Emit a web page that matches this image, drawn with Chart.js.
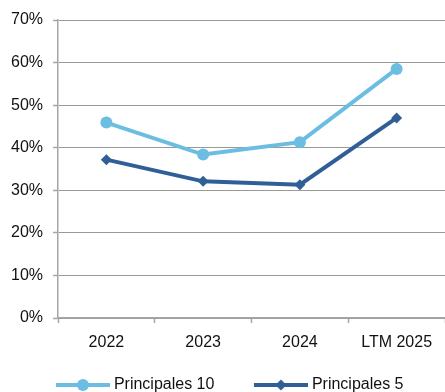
<!DOCTYPE html>
<html>
<head>
<meta charset="utf-8">
<script src="https://cdn.jsdelivr.net/npm/chart.js@4"></script>
<style>
  html, body { margin: 0; padding: 0; background: #fff; overflow: hidden; }
  #wrap { width: 445px; height: 403px; position: relative; }
</style>
</head>
<body>
<div id="wrap"><canvas id="chart"></canvas></div>
<script>
const labels = ["2022", "2023", "2024", "LTM 2025"];
const principales10 = [45.9, 38.4, 41.3, 58.5];
const principales5 = [37.2, 32.1, 31.3, 47.0];
const yTicks = [0, 10, 20, 30, 40, 50, 60, 70];

const lightBlue = "#6cbde2";
const darkBlue = "#2f5f96";
const gridGrey = "#999999";
const axisGrey = "#a6a6a6";
const FONT = "'Liberation Sans', Arial, sans-serif";

// line + marker picture used as the legend symbol
function legendIcon(color, style) {
  const c = document.createElement("canvas");
  c.width = 56; c.height = 14;
  const g = c.getContext("2d");
  g.strokeStyle = color;
  g.lineWidth = 4;
  g.beginPath(); g.moveTo(2, 7); g.lineTo(56, 7); g.stroke();
  g.fillStyle = color;
  g.beginPath();
  if (style === "circle") {
    g.arc(29, 7, 6, 0, Math.PI * 2);
  } else {
    g.moveTo(29, 1.5); g.lineTo(34.5, 7); g.lineTo(29, 12.5); g.lineTo(23.5, 7); g.closePath();
  }
  g.fill();
  return c;
}

new Chart(document.getElementById("chart"), {
  type: "line",
  data: {
    labels: labels,
    datasets: [{
      label: "Principales 10",
      data: principales10,
      borderColor: lightBlue,
      backgroundColor: lightBlue,
      borderWidth: 4,
      pointStyle: "circle",
      pointRadius: 6,
      pointHoverRadius: 6,
      pointBorderWidth: 0,
      tension: 0
    }, {
      label: "Principales 5",
      data: principales5,
      borderColor: darkBlue,
      backgroundColor: darkBlue,
      borderWidth: 4,
      pointStyle: "rectRot",
      pointRadius: 5.5,
      pointHoverRadius: 5.5,
      pointBorderWidth: 0,
      tension: 0
    }]
  },
  options: {
    responsive: true,
    maintainAspectRatio: false,
    animation: false,
    layout: { autoPadding: false, padding: { top: 20, right: 0, left: 0, bottom: 0 } },
    plugins: {
      tooltip: { enabled: false },
      legend: {
        position: "bottom",
        align: "end",
        labels: {
          font: { family: FONT, size: 16 },
          color: "#111",
          padding: 41.5,
          usePointStyle: true,
          pointStyleWidth: 48,
          generateLabels: (chart) => chart.data.datasets.map((ds, i) => ({
            text: ds.label,
            datasetIndex: i,
            pointStyle: legendIcon(ds.borderColor, ds.pointStyle),
            fillStyle: ds.borderColor,
            strokeStyle: ds.borderColor,
            lineWidth: 0,
            fontColor: "#111"
          }))
        }
      }
    },
    scales: {
      x: {
        offset: true,
        afterFit: (s) => { s.height = 17.5; },
        grid: {
          offset: true,
          drawOnChartArea: false,
          tickLength: 5,
          tickColor: axisGrey,
          tickWidth: 1.5
        },
        border: { color: axisGrey, width: 1.5 },
        ticks: {
          font: { family: FONT, size: 16 },
          color: "#111",
          // mirrored so the labels are not clipped to the short axis box
          mirror: true,
          padding: -34,
          maxRotation: 0,
          autoSkip: false
        }
      },
      y: {
        min: 0,
        max: 70,
        afterFit: (s) => { s.width = 58; },
        afterBuildTicks: (s) => { s.ticks = yTicks.map(v => ({ value: v })); },
        grid: {
          color: gridGrey,
          lineWidth: 1,
          borderDash: [3, 2],
          tickLength: 5,
          tickColor: axisGrey,
          tickBorderDash: [],
          tickWidth: 1.5
        },
        border: { color: axisGrey, width: 1.5 },
        ticks: {
          font: { family: FONT, size: 16 },
          color: "#111",
          padding: 10,
          callback: (v) => v + "%"
        }
      }
    }
  }
});
</script>
</body>
</html>
